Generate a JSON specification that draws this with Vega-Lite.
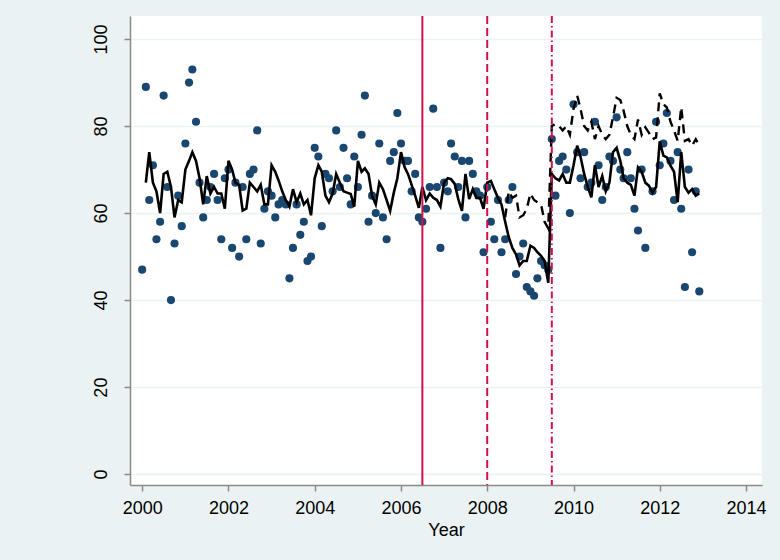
{
  "$schema": "https://vega.github.io/schema/vega-lite/v6.json",
  "autosize": {"type": "none"},
  "padding": {"left": 130, "top": 16, "right": 18, "bottom": 75},
  "width": 632,
  "height": 469,
  "background": "#eaf2f3",
  "config": {
    "view": {"fill": "white", "stroke": null},
    "font": "Liberation Sans",
    "axis": {
      "labelFont": "Liberation Sans",
      "titleFont": "Liberation Sans",
      "labelFontSize": 18,
      "titleFontSize": 18,
      "titleFontWeight": "normal",
      "labelColor": "black",
      "titleColor": "black",
      "domainColor": "#8a8a8a",
      "domainWidth": 1.5,
      "tickColor": "#8a8a8a",
      "tickWidth": 1.5,
      "tickSize": 6
    }
  },
  "datasets": {
    "series": [
      {"d": "2000-01-01", "y": 47},
      {"d": "2000-02-01", "y": 89, "fit": 67},
      {"d": "2000-03-01", "y": 63, "fit": 74},
      {"d": "2000-04-01", "y": 71, "fit": 67},
      {"d": "2000-05-01", "y": 54, "fit": 65},
      {"d": "2000-06-01", "y": 58, "fit": 60},
      {"d": "2000-07-01", "y": 87, "fit": 69},
      {"d": "2000-08-01", "y": 66, "fit": 69.5},
      {"d": "2000-09-01", "y": 40, "fit": 66},
      {"d": "2000-10-01", "y": 53, "fit": 59},
      {"d": "2000-11-01", "y": 64, "fit": 63},
      {"d": "2000-12-01", "y": 57, "fit": 62.5},
      {"d": "2001-01-01", "y": 76, "fit": 70},
      {"d": "2001-02-01", "y": 90, "fit": 72},
      {"d": "2001-03-01", "y": 93, "fit": 74},
      {"d": "2001-04-01", "y": 81, "fit": 72},
      {"d": "2001-05-01", "y": 67, "fit": 68},
      {"d": "2001-06-01", "y": 59, "fit": 62},
      {"d": "2001-07-01", "y": 63, "fit": 68.5},
      {"d": "2001-08-01", "y": 66, "fit": 64.5},
      {"d": "2001-09-01", "y": 69, "fit": 66},
      {"d": "2001-10-01", "y": 63, "fit": 64.5},
      {"d": "2001-11-01", "y": 54, "fit": 64.5},
      {"d": "2001-12-01", "y": 68, "fit": 61},
      {"d": "2002-01-01", "y": 70, "fit": 72},
      {"d": "2002-02-01", "y": 52, "fit": 70},
      {"d": "2002-03-01", "y": 67, "fit": 67},
      {"d": "2002-04-01", "y": 50, "fit": 66.5},
      {"d": "2002-05-01", "y": 66, "fit": 60.6},
      {"d": "2002-06-01", "y": 54, "fit": 61},
      {"d": "2002-07-01", "y": 69, "fit": 67},
      {"d": "2002-08-01", "y": 70, "fit": 66},
      {"d": "2002-09-01", "y": 79, "fit": 65},
      {"d": "2002-10-01", "y": 53, "fit": 66.5},
      {"d": "2002-11-01", "y": 61, "fit": 62},
      {"d": "2002-12-01", "y": 65, "fit": 62},
      {"d": "2003-01-01", "y": 64, "fit": 71},
      {"d": "2003-02-01", "y": 59, "fit": 69.5},
      {"d": "2003-03-01", "y": 62, "fit": 67.5},
      {"d": "2003-04-01", "y": 63, "fit": 65},
      {"d": "2003-05-01", "y": 62, "fit": 63},
      {"d": "2003-06-01", "y": 45, "fit": 61.5},
      {"d": "2003-07-01", "y": 52, "fit": 65.5},
      {"d": "2003-08-01", "y": 62, "fit": 62.5},
      {"d": "2003-09-01", "y": 55, "fit": 64.5},
      {"d": "2003-10-01", "y": 58, "fit": 62},
      {"d": "2003-11-01", "y": 49, "fit": 63},
      {"d": "2003-12-01", "y": 50, "fit": 59.5},
      {"d": "2004-01-01", "y": 75, "fit": 68},
      {"d": "2004-02-01", "y": 73, "fit": 71},
      {"d": "2004-03-01", "y": 57, "fit": 69.5},
      {"d": "2004-04-01", "y": 69, "fit": 64},
      {"d": "2004-05-01", "y": 68, "fit": 62.5},
      {"d": "2004-06-01", "y": 65, "fit": 64.5},
      {"d": "2004-07-01", "y": 79, "fit": 69},
      {"d": "2004-08-01", "y": 66, "fit": 67},
      {"d": "2004-09-01", "y": 75, "fit": 65},
      {"d": "2004-10-01", "y": 68, "fit": 64.7},
      {"d": "2004-11-01", "y": 62, "fit": 64.4},
      {"d": "2004-12-01", "y": 73, "fit": 61.5},
      {"d": "2005-01-01", "y": 66, "fit": 72},
      {"d": "2005-02-01", "y": 78, "fit": 69.5},
      {"d": "2005-03-01", "y": 87, "fit": 70.3},
      {"d": "2005-04-01", "y": 58, "fit": 69},
      {"d": "2005-05-01", "y": 64, "fit": 64},
      {"d": "2005-06-01", "y": 60, "fit": 62},
      {"d": "2005-07-01", "y": 76, "fit": 67},
      {"d": "2005-08-01", "y": 59, "fit": 65.5},
      {"d": "2005-09-01", "y": 54, "fit": 63},
      {"d": "2005-10-01", "y": 72, "fit": 60.5},
      {"d": "2005-11-01", "y": 74, "fit": 64.7},
      {"d": "2005-12-01", "y": 83, "fit": 68},
      {"d": "2006-01-01", "y": 76, "fit": 74},
      {"d": "2006-02-01", "y": 72, "fit": 70.5},
      {"d": "2006-03-01", "y": 72, "fit": 69},
      {"d": "2006-04-01", "y": 65, "fit": 66.5},
      {"d": "2006-05-01", "y": 69, "fit": 64},
      {"d": "2006-06-01", "y": 59, "fit": 61.2},
      {"d": "2006-07-01", "y": 58, "fit": 66},
      {"d": "2006-08-01", "y": 61, "fit": 63},
      {"d": "2006-09-01", "y": 66, "fit": 64.5},
      {"d": "2006-10-01", "y": 84, "fit": 63.5},
      {"d": "2006-11-01", "y": 66, "fit": 63},
      {"d": "2006-12-01", "y": 52, "fit": 61.5},
      {"d": "2007-01-01", "y": 67, "fit": 67},
      {"d": "2007-02-01", "y": 65, "fit": 68},
      {"d": "2007-03-01", "y": 76, "fit": 67.8},
      {"d": "2007-04-01", "y": 73, "fit": 66.7},
      {"d": "2007-05-01", "y": 66, "fit": 63.2},
      {"d": "2007-06-01", "y": 72, "fit": 60.5},
      {"d": "2007-07-01", "y": 59, "fit": 69},
      {"d": "2007-08-01", "y": 72, "fit": 63.2},
      {"d": "2007-09-01", "y": 69, "fit": 65.5},
      {"d": "2007-10-01", "y": 65, "fit": 63.5},
      {"d": "2007-11-01", "y": 64, "fit": 63.5},
      {"d": "2007-12-01", "y": 51, "fit": 61},
      {"d": "2008-01-01", "y": 66, "fit": 67},
      {"d": "2008-02-01", "y": 58, "fit": 67.4},
      {"d": "2008-03-01", "y": 54, "fit": 65.5},
      {"d": "2008-04-01", "y": 63, "fit": 63.5},
      {"d": "2008-05-01", "y": 51, "fit": 62},
      {"d": "2008-06-01", "y": 54, "fit": 58, "cf": 59},
      {"d": "2008-07-01", "y": 63, "fit": 54.5, "cf": 65},
      {"d": "2008-08-01", "y": 66, "fit": 52, "cf": 63.5},
      {"d": "2008-09-01", "y": 46, "fit": 50.5, "cf": 64},
      {"d": "2008-10-01", "y": 50, "fit": 48, "cf": 59},
      {"d": "2008-11-01", "y": 53, "fit": 49, "cf": 59.5},
      {"d": "2008-12-01", "y": 43, "fit": 49, "cf": 61},
      {"d": "2009-01-01", "y": 42, "fit": 52.5, "cf": 64.5},
      {"d": "2009-02-01", "y": 41, "fit": 52, "cf": 63},
      {"d": "2009-03-01", "y": 45, "fit": 51, "cf": 62.5},
      {"d": "2009-04-01", "y": 49, "fit": 50.2, "cf": 62},
      {"d": "2009-05-01", "y": 48, "fit": 49, "cf": 58},
      {"d": "2009-06-01", "y": 47, "fit": 44, "cf": 56.5},
      {"d": "2009-07-01", "y": 77, "fit": 69, "cf": 80},
      {"d": "2009-08-01", "y": 64, "fit": 68, "cf": 80.5},
      {"d": "2009-09-01", "y": 72, "fit": 67.5, "cf": 80},
      {"d": "2009-10-01", "y": 73, "fit": 69, "cf": 79},
      {"d": "2009-11-01", "y": 70, "fit": 67, "cf": 80},
      {"d": "2009-12-01", "y": 60, "fit": 67, "cf": 78},
      {"d": "2010-01-01", "y": 85, "fit": 71, "cf": 84},
      {"d": "2010-02-01", "y": 74, "fit": 75.5, "cf": 87},
      {"d": "2010-03-01", "y": 68, "fit": 73, "cf": 84},
      {"d": "2010-04-01", "y": 74, "fit": 69, "cf": 80},
      {"d": "2010-05-01", "y": 66, "fit": 66, "cf": 79},
      {"d": "2010-06-01", "y": 67, "fit": 63.6, "cf": 81},
      {"d": "2010-07-01", "y": 81, "fit": 71, "cf": 77},
      {"d": "2010-08-01", "y": 71, "fit": 66, "cf": 80},
      {"d": "2010-09-01", "y": 63, "fit": 68.5, "cf": 78},
      {"d": "2010-10-01", "y": 66, "fit": 65, "cf": 77},
      {"d": "2010-11-01", "y": 73, "fit": 67, "cf": 78},
      {"d": "2010-12-01", "y": 72, "fit": 74, "cf": 82},
      {"d": "2011-01-01", "y": 82, "fit": 75, "cf": 86.5},
      {"d": "2011-02-01", "y": 70, "fit": 72, "cf": 86},
      {"d": "2011-03-01", "y": 68, "fit": 68, "cf": 83.5},
      {"d": "2011-04-01", "y": 74, "fit": 67, "cf": 80},
      {"d": "2011-05-01", "y": 68, "fit": 66.5, "cf": 78},
      {"d": "2011-06-01", "y": 61, "fit": 64, "cf": 77},
      {"d": "2011-07-01", "y": 56, "fit": 70.5, "cf": 81.5},
      {"d": "2011-08-01", "y": 70, "fit": 69.5, "cf": 78},
      {"d": "2011-09-01", "y": 52, "fit": 67, "cf": 79.7},
      {"d": "2011-10-01", "fit": 66.3, "cf": 78.5},
      {"d": "2011-11-01", "y": 65, "fit": 64.7, "cf": 77},
      {"d": "2011-12-01", "y": 81, "fit": 66, "cf": 77.4},
      {"d": "2012-01-01", "y": 71, "fit": 76.5, "cf": 87.5},
      {"d": "2012-02-01", "y": 76, "fit": 73.2, "cf": 85},
      {"d": "2012-03-01", "y": 83, "fit": 72.8, "cf": 84.3},
      {"d": "2012-04-01", "y": 72, "fit": 70.9, "cf": 81},
      {"d": "2012-05-01", "y": 63, "fit": 69.5, "cf": 79},
      {"d": "2012-06-01", "y": 74, "fit": 62.5, "cf": 76.6},
      {"d": "2012-07-01", "y": 61, "fit": 74, "cf": 84.3},
      {"d": "2012-08-01", "y": 43, "fit": 66, "cf": 76.6},
      {"d": "2012-09-01", "y": 70, "fit": 64.7, "cf": 77},
      {"d": "2012-10-01", "y": 51, "fit": 65.5, "cf": 75.5},
      {"d": "2012-11-01", "y": 65, "fit": 64, "cf": 77},
      {"d": "2012-12-01", "y": 42, "fit": 64.5, "cf": 75.5}
    ],
    "events": [
      {"d": "2006-07-01", "k": "a"},
      {"d": "2008-01-01", "k": "b"},
      {"d": "2009-07-01", "k": "c"}
    ]
  },
  "encoding": {
    "x": {
      "field": "d",
      "type": "temporal",
      "scale": {
        "type": "utc",
        "domain": [
          {"year": 1999, "month": 9, "date": 20, "utc": true},
          {"year": 2014, "month": 5, "date": 16, "utc": true}
        ],
        "nice": false
      },
      "axis": {
        "title": "Year",
        "format": "%Y",
        "values": [
          {"year": 2000, "utc": true},
          {"year": 2002, "utc": true},
          {"year": 2004, "utc": true},
          {"year": 2006, "utc": true},
          {"year": 2008, "utc": true},
          {"year": 2010, "utc": true},
          {"year": 2012, "utc": true},
          {"year": 2014, "utc": true}
        ],
        "grid": false,
        "labelPadding": 8,
        "titlePadding": 4,
        "labelFlush": false
      }
    }
  },
  "layer": [
    {
      "data": {"name": "series"},
      "mark": {"type": "point", "filled": true, "size": 66, "opacity": 1, "color": "#1a476f", "strokeWidth": 0},
      "encoding": {
        "y": {
          "field": "y",
          "type": "quantitative",
          "scale": {"domain": [-2.5, 105.3], "nice": false, "zero": false},
          "axis": {
            "title": null,
            "values": [0, 20, 40, 60, 80, 100],
            "grid": true,
            "gridColor": "#eaf2f3",
            "gridWidth": 1.3,
            "labelAngle": 270,
            "labelPadding": 14,
            "labelFlush": false
          }
        }
      }
    },
    {
      "data": {"name": "series"},
      "mark": {"type": "line", "color": "black", "strokeWidth": 2.6},
      "encoding": {
        "y": {"field": "fit", "type": "quantitative"}
      }
    },
    {
      "data": {"name": "series"},
      "mark": {"type": "line", "color": "black", "strokeWidth": 2.4, "strokeDash": [9, 6]},
      "encoding": {
        "y": {"field": "cf", "type": "quantitative"}
      }
    },
    {
      "data": {"name": "events"},
      "mark": {"type": "rule", "color": "#d1124a", "strokeWidth": 2},
      "encoding": {
        "strokeDash": {
          "field": "k",
          "type": "nominal",
          "scale": {"domain": ["a", "b", "c"], "range": [[1, 0], [8, 4], [7, 3, 1.5, 3]]},
          "legend": null
        }
      }
    }
  ]
}
